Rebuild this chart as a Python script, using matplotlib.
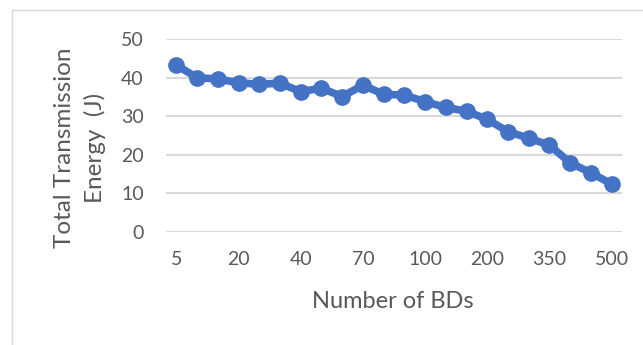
import numpy as np
import matplotlib
matplotlib.use("Agg")
import matplotlib.pyplot as plt
from matplotlib.patches import Rectangle

# number of BDs (only every third label is shown on the axis)
bds = [5, 10, 15, 20, 25, 30, 40, 50, 60, 70, 80, 90,
       100, 125, 150, 200, 250, 300, 350, 400, 450, 500]
energy = [43.3, 40.0, 39.7, 38.7, 38.3, 38.6, 36.4, 37.3, 35.1, 38.1, 35.7, 35.5,
          33.8, 32.3, 31.3, 29.2, 26.0, 24.3, 22.5, 17.9, 15.3, 12.4]
yticks = [0, 10, 20, 30, 40, 50]

plt.rcParams['font.family'] = ['Lato', 'DejaVu Sans']
grey = '#595959'

fig = plt.figure(figsize=(6.43, 3.45), dpi=100)
fig.patches.append(Rectangle((12 / 643, -0.1), 1.1, 1.1 - 10 / 345,
                             transform=fig.transFigure, fill=False,
                             edgecolor='#D9D9D9', linewidth=1.0))

ax = fig.add_axes([166 / 643, 1 - 231.7 / 345, (622 - 166) / 643, (231.7 - 39.3) / 345])

x = np.arange(len(bds))
ax.plot(x, energy, color='#4472C4', linewidth=5.5, marker='o', markersize=11,
        solid_capstyle='round', zorder=3)

ax.set_xlim(-0.5, len(bds) - 0.5)
ax.set_ylim(0, 50)
ax.set_yticks(yticks)
ax.set_xticks(x[::3])
ax.set_xticklabels([str(b) for b in bds[::3]])
ax.grid(axis='y', color='#D9D9D9', linewidth=1.5)
ax.set_axisbelow(True)
for s in ax.spines.values():
    s.set_visible(False)
ax.tick_params(length=0, labelsize=14, labelcolor=grey)
ax.tick_params(axis='y', pad=16)
ax.tick_params(axis='x', pad=14)

fig.text(393 / 643, 1 - 302 / 345, 'Number of BDs', fontsize=17, color=grey,
         ha='center', va='center')
fig.text(80 / 643, 1 - 148 / 345, 'Total Transmission\nEnergy  (J)', fontsize=17.5,
         color=grey, rotation=90, ha='center', va='center', linespacing=1.45,
         multialignment='center')

fig.savefig('out.png', dpi=100)
